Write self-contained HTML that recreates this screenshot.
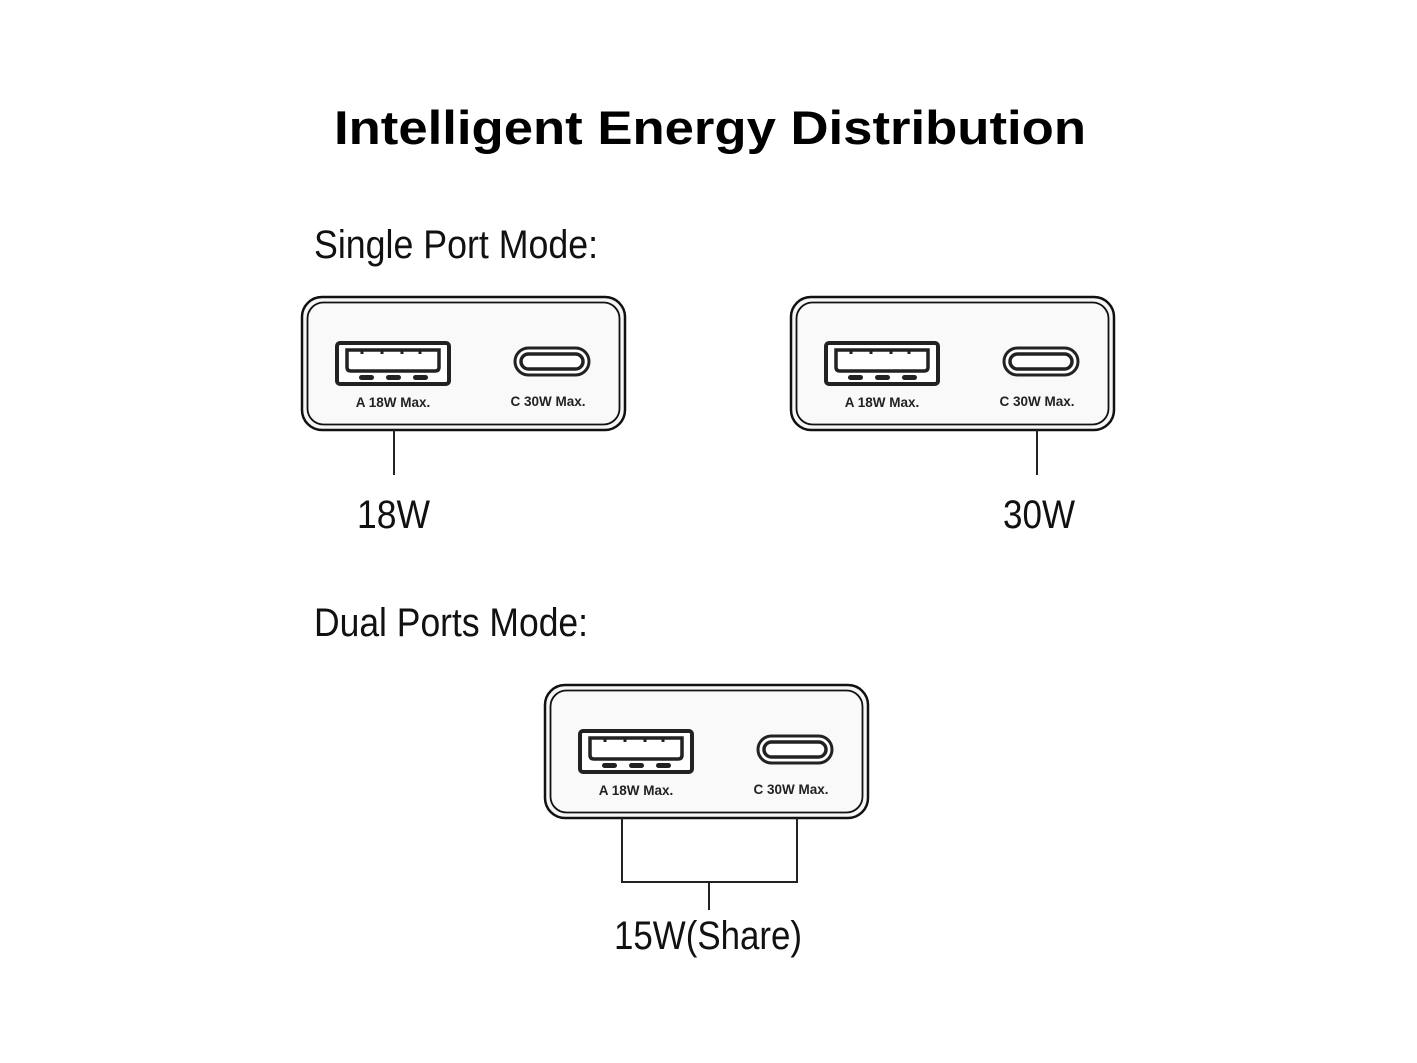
<!DOCTYPE html>
<html><head><meta charset="utf-8"><style>
html,body{margin:0;padding:0;background:#fff;}
svg{display:block}
</style></head><body>
<svg width="1417" height="1063" viewBox="0 0 1417 1063" xmlns="http://www.w3.org/2000/svg">
<defs>
<g id="box">
  <rect x="0" y="0" width="323" height="133" rx="20" fill="#f6f6f6" stroke="#111" stroke-width="2.5"/>
  <rect x="5.5" y="5.5" width="312" height="122" rx="16" fill="#f9f9f9" stroke="#111" stroke-width="1.8"/>
  <rect x="35" y="46" width="112" height="41" rx="3" fill="#fff" stroke="#222" stroke-width="4"/>
  <path d="M45 53 H137 V70 Q137 74 133 74 H49 Q45 74 45 70 Z" fill="#fff" stroke="#222" stroke-width="3.5"/>
  <path d="M60 53 v4 M80 53 v4 M100 53 v4 M118 53 v4" stroke="#222" stroke-width="3"/>
  <rect x="57" y="78" width="15" height="5" rx="2.5" fill="#222"/>
  <rect x="84" y="78" width="15" height="5" rx="2.5" fill="#222"/>
  <rect x="111" y="78" width="15" height="5" rx="2.5" fill="#222"/>
  <rect x="213" y="51" width="74" height="27" rx="13.5" fill="#fff" stroke="#222" stroke-width="3"/>
  <rect x="219" y="57" width="62" height="15" rx="7.5" fill="#fff" stroke="#222" stroke-width="3.5"/>
  <text x="91" y="110" text-anchor="middle" font-family="Liberation Sans, sans-serif" font-weight="bold" font-size="13.5" fill="#222">A 18W Max.</text>
  <text x="246" y="109" text-anchor="middle" font-family="Liberation Sans, sans-serif" font-weight="bold" font-size="13.5" fill="#222">C 30W Max.</text>
</g>
</defs>
<text x="710" y="144" text-anchor="middle" font-family="Liberation Sans, sans-serif" font-weight="bold" font-size="47" textLength="752" lengthAdjust="spacingAndGlyphs" fill="#000">Intelligent Energy Distribution</text>
<text x="314" y="258" font-family="Liberation Sans, sans-serif" font-size="40" textLength="284" lengthAdjust="spacingAndGlyphs" fill="#111">Single Port Mode:</text>
<text x="314" y="636" font-family="Liberation Sans, sans-serif" font-size="40" textLength="274" lengthAdjust="spacingAndGlyphs" fill="#111">Dual Ports Mode:</text>

<use href="#box" x="302" y="297"/>
<use href="#box" x="791" y="297"/>
<use href="#box" x="545" y="685"/>

<g stroke="#222" stroke-width="2" fill="none">
  <line x1="394" y1="430" x2="394" y2="475"/>
  <line x1="1037" y1="430" x2="1037" y2="475"/>
  <polyline points="622,818 622,882 797,882 797,818"/>
  <line x1="709" y1="882" x2="709" y2="910"/>
</g>
<g font-family="Liberation Sans, sans-serif" font-size="40" fill="#111">
  <text x="357" y="528" textLength="73" lengthAdjust="spacingAndGlyphs">18W</text>
  <text x="1003" y="528" textLength="72" lengthAdjust="spacingAndGlyphs">30W</text>
  <text x="614" y="949" textLength="188" lengthAdjust="spacingAndGlyphs">15W(Share)</text>
</g>
</svg>
</body></html>
